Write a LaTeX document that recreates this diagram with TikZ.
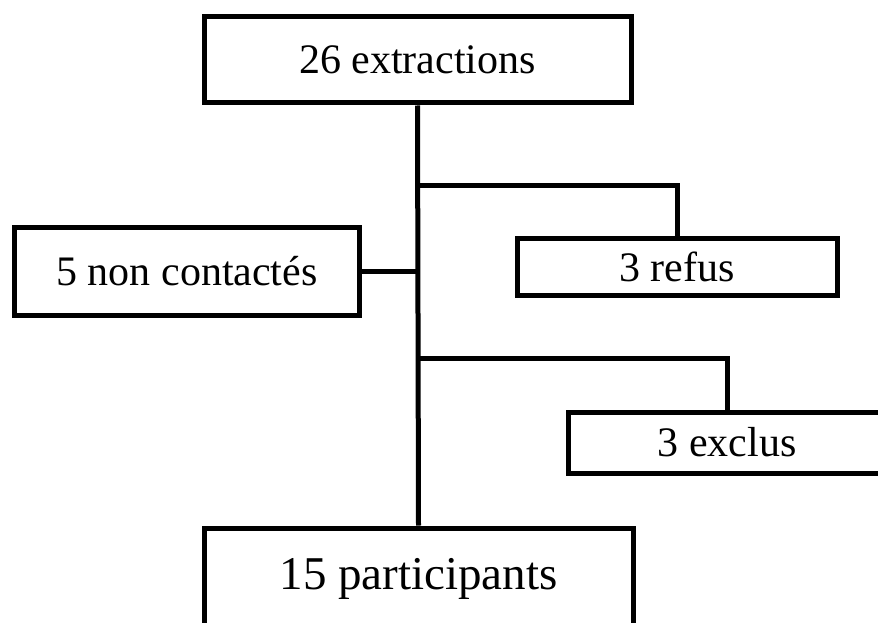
\documentclass[tikz,border=0pt]{standalone}
\usepackage{fontspec}
\setmainfont{Liberation Serif}
\tikzset{
  flowbox/.style={draw, line width=5pt, inner sep=0pt, font=\fontsize{42}{48}\selectfont},
  link/.style={line width=5pt}
}
\begin{document}
\begin{tikzpicture}[x=1pt,y=-1pt]
        \useasboundingbox (0,0) rectangle (878,623);
        \clip (0,0) rectangle (878,623);
        \node [flowbox, minimum width=427pt, minimum height=86pt] (extr) at (417.5,60) {26 extractions};
        \node [flowbox, minimum width=345pt, minimum height=88pt] (nonc) at (187,271) {5 non contactés};
        \node [flowbox, minimum width=320pt, minimum height=57pt] (refus) at (677,266.5) {3 refus};
        \node [flowbox, minimum width=318pt, minimum height=61pt] (excl) at (727,442.5) {3 exclus};
        \node [flowbox, minimum width=429pt, minimum height=101pt, font=\fontsize{47}{54}\selectfont] (part) at (418.5,578.5) {15 participants};
        \coordinate (J1) at (417.5,185);
        \coordinate (J2) at (417.5,358);
        \draw [link] (extr.south) -- (part.north);
        \draw [link] (J1) -| (refus.north);
        \draw [link] (J2) -| (excl.north);
        \draw [link] (nonc.east) -- (nonc.east -| extr.south);

    \end{tikzpicture}
\end{document}
